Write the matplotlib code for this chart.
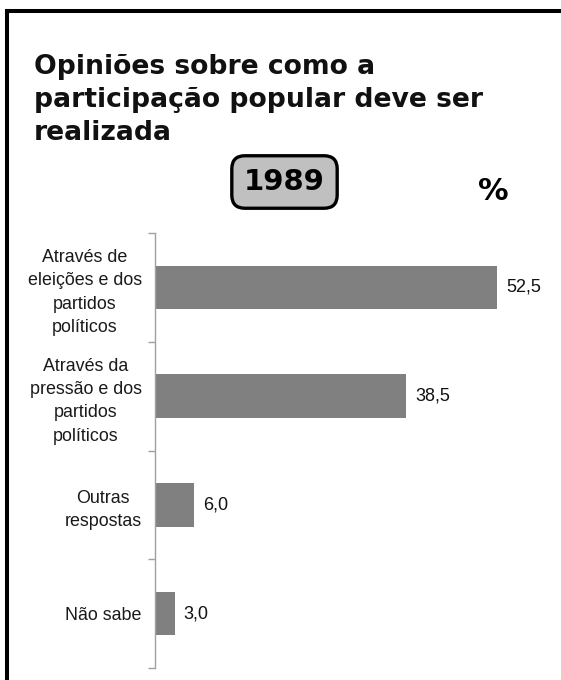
import matplotlib
matplotlib.use("Agg")
import matplotlib.pyplot as plt
from matplotlib.lines import Line2D

# dados do grafico (1989)
categorias = ["Através de\neleições e dos\npartidos\npolíticos",
              "Através da\npressão e dos\npartidos\npolíticos",
              "Outras\nrespostas",
              "Não sabe"]
valores = [52.5, 38.5, 6.0, 3.0]
rotulos = ["52,5", "38,5", "6,0", "3,0"]
titulo = "Opiniões sobre como a\nparticipação popular deve ser\nrealizada"
ano = "1989"

W, H = 561, 680
fig = plt.figure(figsize=(W / 100, H / 100), dpi=100)

# moldura preta (so esquerda e topo aparecem)
fig.add_artist(Line2D([7 / W, 7 / W], [0, 1 - 11 / H], color="black", lw=2.9,
                      transform=fig.transFigure, solid_capstyle="projecting"))
fig.add_artist(Line2D([7 / W, 1], [1 - 11 / H, 1 - 11 / H], color="black", lw=2.9,
                      transform=fig.transFigure, solid_capstyle="projecting"))

fig.text(34 / W, 1 - 140 / H, titulo, fontsize=19.2, fontweight="bold",
         family="DejaVu Sans", ha="left", va="baseline", linespacing=1.36,
         color="#111111")

fig.text(284.5 / W, 1 - 182 / H, ano, fontsize=21, fontweight="bold",
         family="DejaVu Sans", ha="center", va="center",
         bbox=dict(boxstyle="round,pad=0.42,rounding_size=0.45",
                   facecolor="#c0c0c0", edgecolor="black", linewidth=2.4))
fig.text(493 / W, 1 - 191 / H, "%", fontsize=22, fontweight="bold",
         family="DejaVu Sans", ha="center", va="center")

ax = fig.add_axes([155 / W, 12 / H, 391 / W, 435 / H])
pos = list(range(len(categorias) - 1, -1, -1))
ax.barh(pos, valores, height=0.4, color="#808080")
for p, v, r in zip(pos, valores, rotulos):
    ax.text(v + 1.4, p, r, va="center", ha="left", fontsize=13,
            family="Liberation Sans", color="#111111")

ax.set_xlim(0, 60)
ax.set_ylim(-0.5, len(categorias) - 0.5)
ax.set_yticks(pos)
ax.set_yticklabels(categorias, family="Liberation Sans", fontsize=12.9,
                   multialignment="center", linespacing=1.48, color="#1a1a1a")
ax.set_yticks([b - 0.5 for b in range(len(categorias) + 1)], minor=True)
ax.tick_params(axis="y", which="major", length=0, pad=9.5)
ax.tick_params(axis="y", which="minor", length=5, color="#a0a0a0", width=1)
ax.set_xticks([])
for s in ["top", "right", "bottom"]:
    ax.spines[s].set_visible(False)
ax.spines["left"].set_color("#a0a0a0")
ax.spines["left"].set_linewidth(1)

fig.savefig("out.png", dpi=100)
